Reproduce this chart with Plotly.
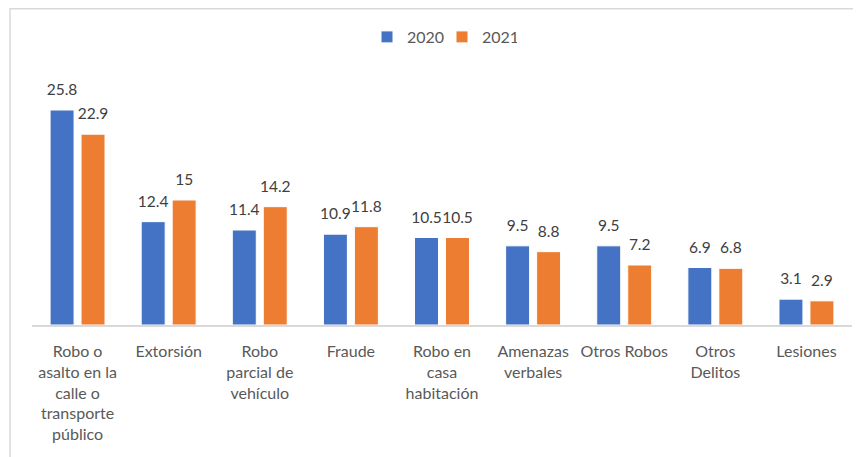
import plotly.graph_objects as go

categorias = [
    "Robo o<br>asalto en la<br>calle o<br>transporte<br>público",
    "Extorsión",
    "Robo<br>parcial de<br>vehículo",
    "Fraude",
    "Robo en<br>casa<br>habitación",
    "Amenazas<br>verbales",
    "Otros Robos",
    "Otros<br>Delitos",
    "Lesiones",
]
valores_2020 = [25.8, 12.4, 11.4, 10.9, 10.5, 9.5, 9.5, 6.9, 3.1]
valores_2021 = [22.9, 15, 14.2, 11.8, 10.5, 8.8, 7.2, 6.8, 2.9]

azul = "#4472C4"
naranja = "#ED7D31"
fuente = "Lato"

fig = go.Figure()
for nombre, valores, color in [("2020", valores_2020, azul), ("2021", valores_2021, naranja)]:
    fig.add_trace(go.Bar(
        x=categorias, y=valores, name=nombre,
        marker=dict(color=color, line=dict(color="white", width=1)),
    ))
# etiquetas de datos sobre las barras
for valores in [valores_2020, valores_2021]:
    fig.add_trace(go.Scatter(
        x=categorias, y=valores, mode="markers+text",
        marker=dict(size=16, opacity=0),
        text=[f"{v:g}" for v in valores], textposition="top center",
        textfont=dict(size=15.5, color="#404040"),
        showlegend=False, hoverinfo="skip", cliponaxis=False,
    ))

# marco gris del gráfico (la página tiene 8px de margen en el body)
fig.add_shape(type="rect", xref="paper", yref="paper",
              x0=-0.0268, x1=1.2, y0=-1, y1=1.265,
              line=dict(color="#d9d9d9", width=1.5), layer="below")

fig.update_layout(
    width=861, height=457,
    margin=dict(l=24, r=17, t=67, b=140, autoexpand=False),
    paper_bgcolor="white", plot_bgcolor="white",
    barmode="group", bargap=0.32, bargroupgap=0.226,
    scattermode="group", scattergap=0.32,
    font=dict(family=fuente, size=16, color="#595959"),
    legend=dict(orientation="h", x=0.5, xanchor="center",
                yref="container", y=1 - 29 / 457, yanchor="middle",
                font=dict(size=16, color="#595959"),
                entrywidth=30, traceorder="normal"),
)
fig.update_xaxes(showline=True, linecolor="#d9d9d9", linewidth=1.5,
                 ticks="", tickangle=0, ticklabelstandoff=11,
                 tickfont=dict(size=16, color="#595959"))
fig.update_yaxes(range=[0, 30], visible=False, showgrid=False)

fig.write_html("out.html")
